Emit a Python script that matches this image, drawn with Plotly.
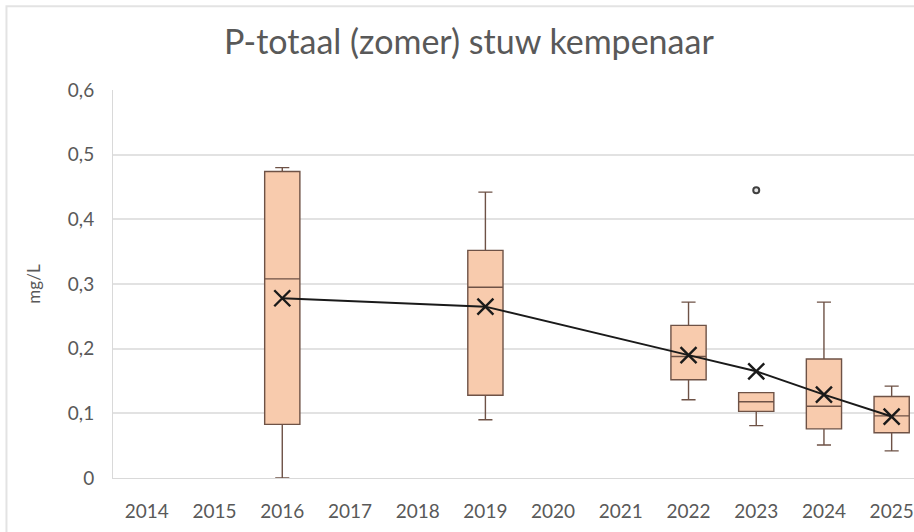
"""Box plot of summer total phosphorus at stuw Kempenaar."""

import plotly.graph_objects as go

# all years on the category axis
years = ["2014", "2015", "2016", "2017", "2018", "2019",
         "2020", "2021", "2022", "2023", "2024", "2025"]

# years with measurements and their box statistics (mg/L)
box_years = ["2016", "2019", "2022", "2023", "2024", "2025"]
lower = [0.0, 0.09, 0.121, 0.081, 0.051, 0.042]
q1 = [0.083, 0.128, 0.152, 0.103, 0.076, 0.070]
median = [0.308, 0.295, 0.188, 0.118, 0.111, 0.096]
q3 = [0.474, 0.352, 0.236, 0.132, 0.184, 0.126]
upper = [0.480, 0.442, 0.272, 0.132, 0.272, 0.142]
means = [0.278, 0.265, 0.190, 0.165, 0.129, 0.095]

outlier_years = ["2023"]
outlier_values = [0.445]

text_color = "#595959"
font_family = "Lato, 'Open Sans', sans-serif"

fig = go.Figure()

fig.add_trace(go.Box(
    x=box_years,
    q1=q1,
    median=median,
    q3=q3,
    lowerfence=lower,
    upperfence=upper,
    width=0.52,
    whiskerwidth=0.4,
    fillcolor="#F8CBAD",
    line=dict(color="#6e5246", width=1.4),
    hoverinfo="skip",
    showlegend=False,
))

fig.add_trace(go.Scatter(
    x=outlier_years,
    y=outlier_values,
    mode="markers",
    marker=dict(symbol="circle", size=6, color="#e6e6e6",
                line=dict(color="#404040", width=2)),
    showlegend=False,
))

fig.add_trace(go.Scatter(
    x=box_years,
    y=means,
    mode="lines+markers",
    line=dict(color="#1a1a1a", width=2),
    marker=dict(symbol="x-thin-open", size=16,
                line=dict(color="#1a1a1a", width=2.4)),
    showlegend=False,
))

# light chart-area border (top and left edges visible)
fig.add_shape(type="rect", xref="paper", yref="paper",
              x0=-0.133, x1=1.2, y0=-0.3, y1=1.216,
              line=dict(color="#e3e3e3", width=2), layer="below")

fig.update_layout(
    width=914,
    height=532,
    margin=dict(l=113, r=0, t=90, b=54),
    paper_bgcolor="white",
    plot_bgcolor="white",
    separators=", ",
    font=dict(family=font_family, color=text_color, size=19),
    title=dict(
        text="P-totaal (zomer) stuw kempenaar",
        x=0.513, xanchor="center",
        y=0.92, yanchor="middle",
        font=dict(size=34, color=text_color),
    ),
    xaxis=dict(
        type="category",
        categoryorder="array",
        categoryarray=years,
        range=[-0.5, 11.33],
        showgrid=False,
        showline=True,
        linecolor="#d9d9d9",
        linewidth=1,
        ticks="outside",
        ticklen=16,
        tickcolor="rgba(0,0,0,0)",
        tickfont=dict(size=19),
    ),
    yaxis=dict(
        range=[0, 0.6],
        dtick=0.1,
        showgrid=True,
        gridcolor="#e2e2e2",
        gridwidth=1.5,
        zeroline=False,
        showline=True,
        linecolor="#d9d9d9",
        linewidth=1,
        ticks="outside",
        ticklen=14,
        tickcolor="rgba(0,0,0,0)",
        tickfont=dict(size=19),
        title=dict(text="mg/L", font=dict(size=17), standoff=22),
    ),
)

fig.write_html("out.html", config={"displayModeBar": False},
               post_script="document.body.style.margin='0';")
